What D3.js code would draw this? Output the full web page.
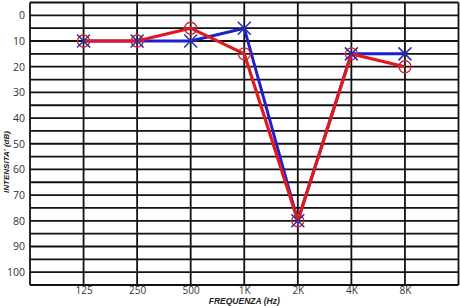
<!DOCTYPE html>
<html>
<head>
<meta charset="utf-8">
<script src="https://cdn.jsdelivr.net/npm/d3@7"></script>
<style>
  body { margin: 0; background: #fff; }
  text { font-family: "Open Sans", "DejaVu Sans", sans-serif; }
</style>
</head>
<body>
<div id="chart"></div>
<script>
// frequencies (Hz labels) and hearing thresholds (dB)
var freqs = ["125", "250", "500", "1K", "2K", "4K", "8K"]
var redValues = [10, 10, 5, 15, 80, 15, 20]   // circles
var blueValues = [10, 10, 10, 5, 80, 15, 15]  // crosses
var yTicks = [0, 10, 20, 30, 40, 50, 60, 70, 80, 90, 100]

var width = 460, height = 306
var margin = {top: 2.5, right: 1.5, bottom: 21, left: 30}
var innerW = width - margin.left - margin.right,
    innerH = height - margin.top - margin.bottom

var svg = d3.select("#chart").append("svg")
    .attr("width", width)
    .attr("height", height)

var g = svg.append("g")
    .attr("transform", "translate(" + margin.left + "," + margin.top + ")")

// one empty slot on each side of the frequency columns
var x = d3.scalePoint().domain(["_l"].concat(freqs).concat(["_r"])).range([0, innerW])
var y = d3.scaleLinear().domain([-5, 105]).range([0, innerH])

// grid every 5 dB
var gridY = d3.range(-5, 106, 5)
g.selectAll(".hgrid")
  .data(gridY)
  .enter()
  .append("line")
  .attr("x1", 0).attr("x2", innerW)
  .attr("y1", function(d){return y(d)}).attr("y2", function(d){return y(d)})
  .attr("stroke", "#111")
  .attr("stroke-width", 1.8)

g.selectAll(".vgrid")
  .data(x.domain())
  .enter()
  .append("line")
  .attr("x1", function(d){return x(d)}).attr("x2", function(d){return x(d)})
  .attr("y1", 0).attr("y2", innerH)
  .attr("stroke", "#111")
  .attr("stroke-width", 1.8)

// axes (labels only)
var yAxis = g.append("g")
  .call(d3.axisLeft(y).tickValues(yTicks).tickSize(0).tickPadding(5))
yAxis.select(".domain").remove()
yAxis.selectAll("text").style("font-size", "10.5px").attr("fill", "#333")
  .style("font-family", "'Open Sans', sans-serif")

var xAxis = g.append("g")
  .attr("transform", "translate(0," + innerH + ")")
  .call(d3.axisBottom(x).tickValues(freqs).tickSize(0).tickPadding(2))
xAxis.select(".domain").remove()
xAxis.selectAll("text").style("font-size", "10px").attr("fill", "#333")
  .style("font-family", "'Open Sans', sans-serif")

// axis titles
svg.append("text")
  .text("FREQUENZA (Hz)")
  .attr("x", margin.left + x("1K"))
  .attr("y", 304)
  .attr("text-anchor", "middle")
  .style("font-size", "8.5px")
  .style("font-style", "italic")
  .style("font-weight", "bold")
  .style("font-family", "'Liberation Sans Narrow', 'Arial Narrow', sans-serif")
  .attr("fill", "#222")

svg.append("text")
  .text("INTENSITA' (dB)")
  .attr("transform", "translate(9,162) rotate(-90)")
  .attr("text-anchor", "middle")
  .style("font-size", "8px")
  .style("font-style", "italic")
  .style("font-weight", "bold")
  .style("font-family", "'Liberation Sans Narrow', 'Arial Narrow', sans-serif")
  .attr("fill", "#222")

var line = d3.line()
  .x(function(d, i){return x(freqs[i])})
  .y(function(d){return y(d)})

var blue = "#1f1fcc", red = "#e0191e"

g.append("path")
  .attr("d", line(blueValues))
  .attr("fill", "none")
  .attr("stroke", blue)
  .attr("stroke-width", 3)
  .attr("stroke-linejoin", "miter")

g.append("path")
  .attr("d", line(redValues))
  .attr("fill", "none")
  .attr("stroke", red)
  .attr("stroke-width", 3.2)
  .attr("stroke-linejoin", "miter")

// red circles
g.selectAll(".circ")
  .data(redValues)
  .enter()
  .append("circle")
  .attr("cx", function(d, i){return x(freqs[i])})
  .attr("cy", function(d){return y(d)})
  .attr("r", 6)
  .attr("fill", "none")
  .attr("stroke", "#c8283a")
  .attr("stroke-width", 1.4)

// blue crosses
var s = 6.5
g.selectAll(".cross")
  .data(blueValues)
  .enter()
  .append("path")
  .attr("transform", function(d, i){return "translate(" + x(freqs[i]) + "," + y(d) + ")"})
  .attr("d", "M" + (-s) + "," + (-s) + "L" + s + "," + s + "M" + (-s) + "," + s + "L" + s + "," + (-s))
  .attr("stroke", "#2a2aa8")
  .attr("stroke-width", 1.5)
  .attr("fill", "none")
</script>
</body>
</html>
